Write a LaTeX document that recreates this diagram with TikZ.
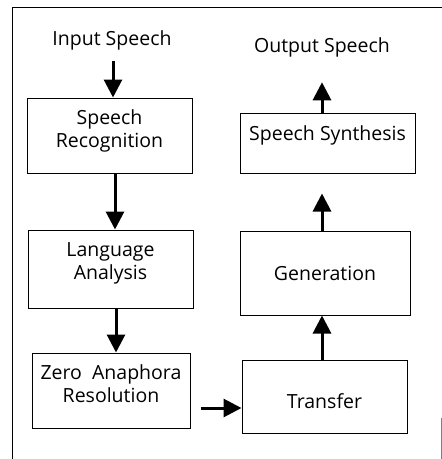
\documentclass[tikz,border=0pt]{standalone}
\usepackage{fontspec}
\setmainfont{Open Sans}
\usetikzlibrary{arrows.meta}

\tikzset{
  stage/.style={draw, rectangle, line width=1pt, align=center, inner sep=0pt,
    font=\fontsize{19.5}{23}\selectfont},
  caption/.style={font=\fontsize{19.5}{23}\selectfont},
  flow/.style={line width=3pt, -{Triangle[length=18pt,width=18pt]}},
}

\begin{document}
\begin{tikzpicture}[x=1pt, y=-1pt]
\useasboundingbox (0,0) rectangle (442,459);
% frame
\draw[line width=1pt] (12,459) -- (12,7) -- (442,7);
\draw[line width=1pt, gray] (441.5,418) -- (441.5,459);
% left column
\node[caption] (in) at (112,40) {Input Speech};
\node[stage, minimum width=165pt, minimum height=75pt, text depth=14pt] (rec) at (109.5,135.5) {Speech\\Recognition};
\node[stage, minimum width=165pt, minimum height=78pt, text depth=16pt] (lang) at (110.5,269) {Language\\Analysis};
\node[stage, minimum width=158pt, minimum height=75pt, text depth=14pt] (zero) at (111,390.5) {Zero~~Anaphora\\Resolution};
% right column
\node[stage, minimum width=165pt, minimum height=73pt, text height=23pt, text depth=0pt] (trans) at (324.5,396.5) {Transfer};
\node[stage, minimum width=170pt, minimum height=84pt] (gen) at (325,273) {Generation};
\node[stage, minimum width=175pt, minimum height=60pt, text depth=20pt] (synth) at (327.5,143) {Speech Synthesis};
\node[caption] (out) at (322,47) {Output Speech};
% arrows
\draw[flow, shorten <=8pt] ([xshift=1pt]in.south) -- ([xshift=3.5pt]rec.north);
\draw[flow] ([xshift=5.5pt]rec.south) -- ([xshift=4.5pt]lang.north);
\draw[flow] ([xshift=5.5pt]lang.south) -- ([xshift=5pt]zero.north);
\draw[flow] ([xshift=10pt,yshift=-17.5pt]zero.east) -- ([yshift=-11.5pt]trans.west);
\draw[flow] ([xshift=-2.5pt]trans.north) -- ([xshift=-3pt]gen.south);
\draw[flow, shorten >=20pt] ([xshift=-3pt]gen.north) -- ([xshift=-5.5pt]synth.south);
\draw[flow, shorten >=22pt] ([xshift=-5.5pt]synth.north) -- (out.south);
\end{tikzpicture}
\end{document}
